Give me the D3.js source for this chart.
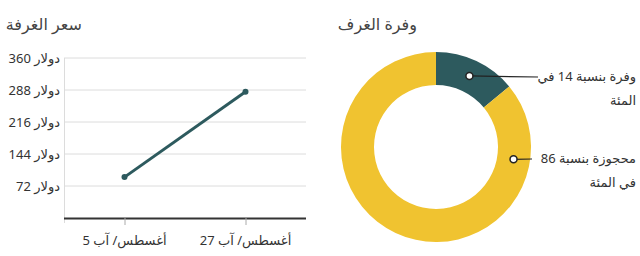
<!DOCTYPE html>
<html>
<head>
<meta charset="utf-8">
<script src="https://cdn.jsdelivr.net/npm/d3@7"></script>
<style>
  body { margin: 0; background: #fff; }
  svg text { font-family: "Noto Sans", "DejaVu Sans", sans-serif; }
</style>
</head>
<body>
<div id="chart-area"></div>
<script>
// price line
var dates = ["أغسطس/ آب 5", "أغسطس/ آب 27"]
var prices = [92, 284]
var priceTicks = [72, 144, 216, 288, 360]

// occupancy donut
var roomStates = ["وفرة", "محجوزة"]
var roomShares = [14, 86]
var roomLabels = [["وفرة بنسبة 14 في", "المئة"], ["محجوزة بنسبة 86", "في المئة"]]

var width = 640
var height = 256
var svg = d3.select("#chart-area")
  .append("svg")
  .attr("width", width)
  .attr("height", height)

// ---- left: room price ----
var g = svg.append("g")

g.append("text")
  .attr("x", 82)
  .attr("y", 30)
  .attr("direction", "rtl")
  .attr("text-anchor", "start")
  .attr("font-size", "16px")
  .style("fill", "#444")
  .text("سعر الغرفة")

var x = d3.scalePoint()
  .domain(dates)
  .range([64, 306])
  .padding(0.5)

var y = d3.scaleLinear()
  .domain([0, 360])
  .range([218, 58])

// gridlines
g.selectAll("line.grid")
  .data(priceTicks)
  .enter().append("line")
  .attr("class", "grid")
  .attr("x1", 64)
  .attr("x2", 306)
  .attr("y1", (d) => { return y(d) })
  .attr("y2", (d) => { return y(d) })
  .attr("stroke", "#dcdcdc")
  .attr("stroke-width", 1)

g.append("line")
  .attr("x1", 64.5).attr("x2", 64.5)
  .attr("y1", y(360)).attr("y2", 223)
  .attr("stroke", "#dcdcdc")

g.selectAll("text.ytick")
  .data(priceTicks)
  .enter().append("text")
  .attr("class", "ytick")
  .attr("x", 60)
  .attr("y", (d) => { return y(d) + 5 })
  .attr("direction", "rtl")
  .attr("text-anchor", "start")
  .attr("font-size", "13px")
  .style("fill", "#333")
  .text((d) => { return "دولار " + d })

var xAxisGroup = g.append("g")
  .attr("transform", "translate(0, 218)")
  .call(d3.axisBottom(x).tickSize(7).tickFormat(""))
xAxisGroup.select(".domain")
  .attr("d", "M64,0.5H306")
  .attr("stroke", "#333")
  .attr("stroke-width", 2)
xAxisGroup.selectAll(".tick line").attr("stroke", "#aaa")

g.selectAll("text.xtick")
  .data(dates)
  .enter().append("text")
  .attr("class", "xtick")
  .attr("x", (d) => { return x(d) })
  .attr("y", 245)
  .attr("direction", "rtl")
  .attr("text-anchor", "middle")
  .attr("font-size", "13px")
  .style("fill", "#333")
  .text((d) => { return d })

var line = d3.line()
  .x((d, i) => { return x(dates[i]) })
  .y((d) => { return y(d) })

g.append("path")
  .datum(prices)
  .attr("d", line)
  .attr("fill", "none")
  .attr("stroke", "#2d5a5e")
  .attr("stroke-width", 3)

g.selectAll("circle.pt")
  .data(prices)
  .enter().append("circle")
  .attr("class", "pt")
  .attr("cx", (d, i) => { return x(dates[i]) })
  .attr("cy", (d) => { return y(d) })
  .attr("r", 3)
  .attr("fill", "#2d5a5e")

// ---- right: room availability donut ----
var cx = 436, cy = 147
var outerR = 95, innerR = 62
var colors = d3.scaleOrdinal().domain(roomStates).range(["#2d5a5e", "#f0c330"])

svg.append("text")
  .attr("x", 417)
  .attr("y", 30)
  .attr("direction", "rtl")
  .attr("text-anchor", "start")
  .attr("font-size", "16px")
  .style("fill", "#444")
  .text("وفرة الغرف")

var pie = d3.pie().sort(null).value((d) => { return d })
var arcs = pie(roomShares)
var arc = d3.arc().innerRadius(innerR).outerRadius(outerR)

var d2 = svg.append("g").attr("transform", `translate(${cx}, ${cy})`)
d2.selectAll("path")
  .data(arcs)
  .enter().append("path")
  .attr("d", arc)
  .attr("fill", (d, i) => { return colors(roomStates[i]) })

// label anchors: centroid for small slice, fixed spot on the right for the big one
var midR = (innerR + outerR) / 2
var anchorAngles = [(arcs[0].startAngle + arcs[0].endAngle) / 2, Math.PI * 0.55]
var labelY = [77, 159]

anchorAngles.forEach((a, i) => {
  var px = Math.sin(a) * midR
  var py = -Math.cos(a) * midR
  var endX = i == 0 ? 538 : 532
  d2.append("line")
    .attr("x1", px).attr("y1", py)
    .attr("x2", endX - cx).attr("y2", labelY[i] - cy)
    .attr("stroke", "#222")
    .attr("stroke-width", 1.2)
  d2.append("circle")
    .attr("cx", px).attr("cy", py)
    .attr("r", 3.5)
    .attr("fill", "#fff")
    .attr("stroke", "#222")
    .attr("stroke-width", 1.5)
  roomLabels[i].forEach((t, j) => {
    svg.append("text")
      .attr("x", 636)
      .attr("y", labelY[i] + 4 + j * 24)
      .attr("direction", "rtl")
      .attr("text-anchor", "start")
      .attr("font-size", "13px")
      .style("fill", "#333")
      .text(t)
  })
})
</script>
</body>
</html>
